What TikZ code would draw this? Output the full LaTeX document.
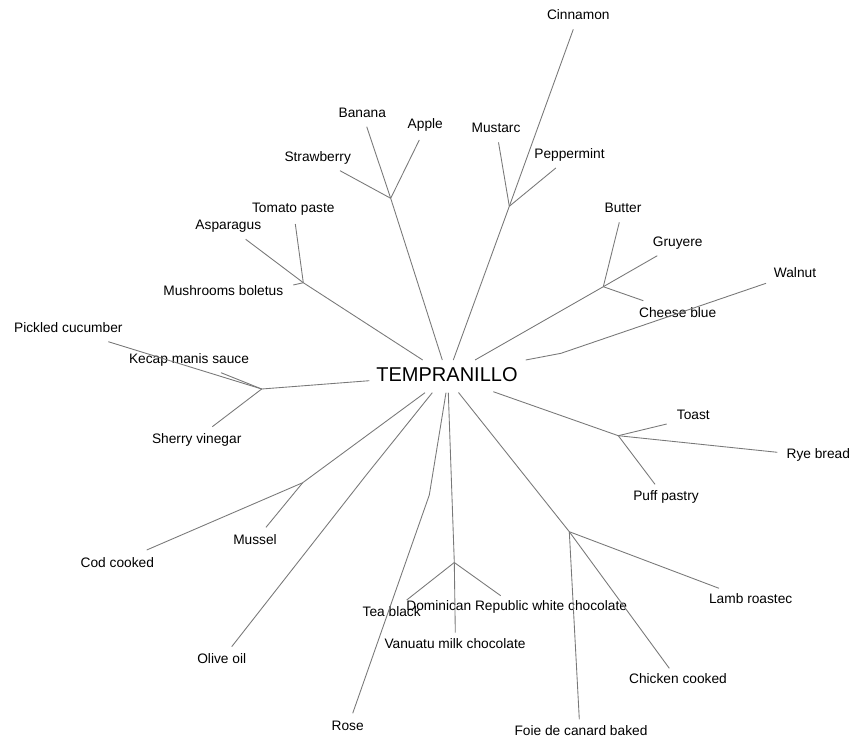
\documentclass[tikz,border=0pt]{standalone}
\usepackage{fontspec}
\setmainfont{Liberation Sans}
\definecolor{edgegray}{RGB}{120,120,120}
\begin{document}
\begin{tikzpicture}[x=0.75pt,y=-0.75pt,
  lbl/.style={inner sep=0pt,font=\fontsize{10.3pt}{12pt}\selectfont,text height=0.7em,text depth=0.2em},
  rootlbl/.style={inner sep=0pt,font=\fontsize{15pt}{18pt}\selectfont,text height=0.75em,text depth=0.15em},
  edge/.style={draw=edgegray,line width=0.65pt}]
\useasboundingbox[fill=white] (0,0) rectangle (864,749);
% root
\node[rootlbl] (root) at (447,377) {TEMPRANILLO};
% start points near the root
\coordinate (sFruit) at (442.3,360);
\coordinate (sSpice) at (453.3,360);
\coordinate (sMush) at (422.7,360);
\coordinate (sCheese) at (475,360);
\coordinate (sWalnut) at (525.7,360);
\coordinate (sBread) at (493.3,391.7);
\coordinate (sPickle) at (369.3,380.7);
\coordinate (sSea) at (425,392.7);
\coordinate (sOlive) at (432.3,392.7);
\coordinate (sRose) at (446,392.7);
\coordinate (sChoc) at (448.3,392.7);
\coordinate (sMeat) at (458.5,392.5);
% junctions
\coordinate (jFruit) at (390.7,198.3);
\coordinate (jSpice) at (509.3,206.3);
\coordinate (jMush) at (303.3,282.7);
\coordinate (jCheese) at (603.3,286.7);
\coordinate (bWalnut) at (561,353.3);
\coordinate (jBread) at (618.3,435.7);
\coordinate (jPickle) at (261.7,389);
\coordinate (jSea) at (302.7,482.7);
\coordinate (bOlive) at (365.7,475.7);
\coordinate (bRose) at (429.3,495);
\coordinate (jChoc) at (454.3,562.5);
\coordinate (jMeat) at (569.3,531.7);
% leaf ends
\coordinate (eBanana) at (366.7,126.7);
\coordinate (eApple) at (419.3,140);
\coordinate (eStraw) at (340,170.7);
\coordinate (eCinn) at (573.3,29.3);
\coordinate (eMust) at (498.5,142.3);
\coordinate (ePepp) at (555.8,168);
\coordinate (eAspa) at (245.7,239.3);
\coordinate (eTom) at (295.3,224);
\coordinate (eMushb) at (293.3,285);
\coordinate (eButter) at (619.3,222.3);
\coordinate (eGruy) at (657.3,255.7);
\coordinate (eChb) at (643.3,300.7);
\coordinate (eWal) at (766,283.3);
\coordinate (eToast) at (666.7,424);
\coordinate (eRye) at (777.3,452.3);
\coordinate (ePuff) at (655,484.3);
\coordinate (ePick) at (108.3,341.7);
\coordinate (eKecap) at (221,372.7);
\coordinate (eSherry) at (212.3,426.7);
\coordinate (eCod) at (146.7,550);
\coordinate (eMussel) at (266,527.3);
\coordinate (eOlive) at (231.7,646.7);
\coordinate (eRose) at (352.7,713.3);
\coordinate (eTea) at (406.7,600);
\coordinate (eDom) at (500.7,595.7);
\coordinate (eVan) at (455.3,632.7);
\coordinate (eFoie) at (579.3,719.3);
\coordinate (eChick) at (669.3,668.3);
\coordinate (eLamb) at (719,588.3);
% labels
\node[lbl] (lBanana) at (362.3,114.5) {Banana};
\node[lbl] (lApple) at (425.3,125.5) {Apple};
\node[lbl] (lStraw) at (317.7,158.2) {Strawberry};
\node[lbl] (lCinn) at (578.3,16.5) {Cinnamon};
\node[lbl] (lMust) at (496,128.8) {Mustarc};
\node[lbl] (lPepp) at (569.5,154.8) {Peppermint};
\node[lbl] (lAspa) at (228.3,225.8) {Asparagus};
\node[lbl] (lTom) at (293.3,209.5) {Tomato paste};
\node[lbl] (lMushb) at (223.3,292.5) {Mushrooms boletus};
\node[lbl] (lButter) at (623,208.8) {Butter};
\node[lbl] (lGruy) at (677.7,242.8) {Gruyere};
\node[lbl] (lChb) at (677.7,313.8) {Cheese blue};
\node[lbl] (lWal) at (795,273.8) {Walnut};
\node[lbl] (lToast) at (693.3,416.5) {Toast};
\node[lbl] (lRye) at (818.3,455.5) {Rye bread};
\node[lbl] (lPuff) at (666,497.2) {Puff pastry};
\node[lbl] (lPick) at (68.3,328.8) {Pickled cucumber};
\node[lbl] (lKecap) at (189,360.5) {Kecap manis sauce};
\node[lbl] (lSherry) at (196.7,439.8) {Sherry vinegar};
\node[lbl] (lCod) at (117.3,563.8) {Cod cooked};
\node[lbl] (lMussel) at (255,541.2) {Mussel};
\node[lbl] (lOlive) at (221.7,660.5) {Olive oil};
\node[lbl] (lRose) at (347.7,727.2) {Rose};
\node[lbl] (lTea) at (391.7,612.8) {Tea black};
\node[lbl] (lDom) at (516.7,607.2) {Dominican Republic white chocolate};
\node[lbl] (lVan) at (455,645.5) {Vanuatu milk chocolate};
\node[lbl] (lFoie) at (581,732.5) {Foie de canard baked};
\node[lbl] (lChick) at (678,680.5) {Chicken cooked};
\node[lbl] (lLamb) at (750.7,600.5) {Lamb roastec};
% edges
\draw[edge] (sFruit) -- (jFruit);
\draw[edge] (jFruit) -- (eBanana);
\draw[edge] (jFruit) -- (eApple);
\draw[edge] (jFruit) -- (eStraw);
\draw[edge] (sSpice) -- (jSpice);
\draw[edge] (jSpice) -- (eCinn);
\draw[edge] (jSpice) -- (eMust);
\draw[edge] (jSpice) -- (ePepp);
\draw[edge] (sMush) -- (jMush);
\draw[edge] (jMush) -- (eAspa);
\draw[edge] (jMush) -- (eTom);
\draw[edge] (jMush) -- (eMushb);
\draw[edge] (sCheese) -- (jCheese);
\draw[edge] (jCheese) -- (eButter);
\draw[edge] (jCheese) -- (eGruy);
\draw[edge] (jCheese) -- (eChb);
\draw[edge] (sWalnut) -- (bWalnut) -- (eWal);
\draw[edge] (sBread) -- (jBread);
\draw[edge] (jBread) -- (eToast);
\draw[edge] (jBread) -- (eRye);
\draw[edge] (jBread) -- (ePuff);
\draw[edge] (sPickle) -- (jPickle);
\draw[edge] (jPickle) -- (ePick);
\draw[edge] (jPickle) -- (eKecap);
\draw[edge] (jPickle) -- (eSherry);
\draw[edge] (sSea) -- (jSea);
\draw[edge] (jSea) -- (eCod);
\draw[edge] (jSea) -- (eMussel);
\draw[edge] (sOlive) -- (bOlive) -- (eOlive);
\draw[edge] (sRose) -- (bRose) -- (eRose);
\draw[edge] (sChoc) -- (jChoc);
\draw[edge] (jChoc) -- (eTea);
\draw[edge] (jChoc) -- (eDom);
\draw[edge] (jChoc) -- (eVan);
\draw[edge] (sMeat) -- (jMeat);
\draw[edge] (jMeat) -- (eFoie);
\draw[edge] (jMeat) -- (eChick);
\draw[edge] (jMeat) -- (eLamb);
\end{tikzpicture}
\end{document}
